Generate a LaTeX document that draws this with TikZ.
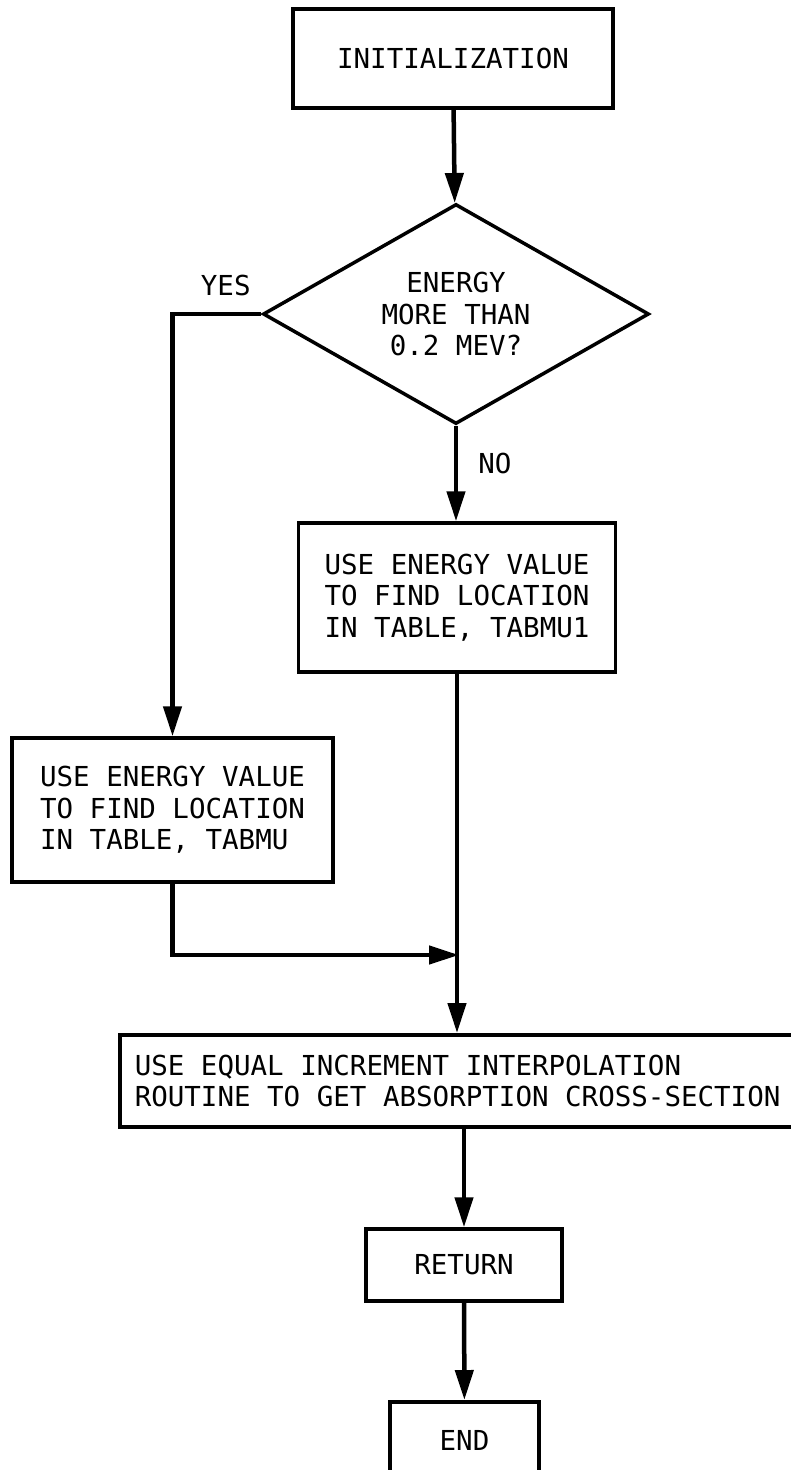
\documentclass[tikz,border=0pt]{standalone}
\usepackage{fontspec}
\newfontfamily\flowfont[WordSpace={1,0,0}]{DejaVu Sans Mono}
\usetikzlibrary{arrows.meta,shapes.geometric}
\begin{document}
\begin{tikzpicture}[x=1pt,y=-1pt,
  txt/.style={font=\flowfont\fontsize{27.5}{31.5}\selectfont},
  box/.style={txt, draw, line width=3.5pt, inner sep=0pt, align=left},
  flow/.style={line width=4.5pt, -{Triangle[width=18pt,length=30pt]}},
  lbl/.style={txt, inner sep=2pt}]
\useasboundingbox (0,0) rectangle (791,1470);
\clip (0,0) rectangle (791,1470);

\node[box, minimum width=320pt, minimum height=99pt] (init) at (453,58.5) {INITIALIZATION};
\node[box, diamond, aspect=1.75, minimum width=386pt, minimum height=220pt, align=center] (dec) at (456,314) {ENERGY\\MORE THAN\\0.2 MEV?};
\node[box, minimum width=317pt, minimum height=149pt] (rbox) at (457,597.5) {USE ENERGY VALUE\\TO FIND LOCATION\\IN TABLE, TABMU1};
\node[box, minimum width=321pt, minimum height=144pt] (lbox) at (172.5,810) {USE ENERGY VALUE\\TO FIND LOCATION\\IN TABLE, TABMU};
\node[box, anchor=north west, inner xsep=15pt, text width=670pt, minimum height=92pt] (bbox) at (118,1033) {\spaceskip=0pt\xspaceskip=0pt\relax USE EQUAL INCREMENT INTERPOLATION\\ROUTINE TO GET ABSORPTION CROSS-SECTION};
\node[box, minimum width=196pt, minimum height=72pt] (ret) at (464,1265) {RETURN};
\node[box, anchor=north, minimum width=149pt, minimum height=90pt] (end) at (464.5,1400) {\raisebox{12pt}{END}};

\coordinate (join) at (459,955);

\draw[flow] (init) -- (dec);
\draw[flow] (dec.west) -| node[lbl, pos=0.2, above=14pt] {YES} (lbox.north);
\draw[flow] (dec.south) -- node[lbl, pos=0.4, right=18pt] {NO} (dec.south |- rbox.north);
\draw[flow] (rbox.south) -- (rbox.south |- bbox.north);
\draw[flow] (lbox.south) |- (join);
\draw[flow] (ret.north |- bbox.south) -- (ret.north);
\draw[flow] (ret) -- (end);
\end{tikzpicture}
\end{document}
